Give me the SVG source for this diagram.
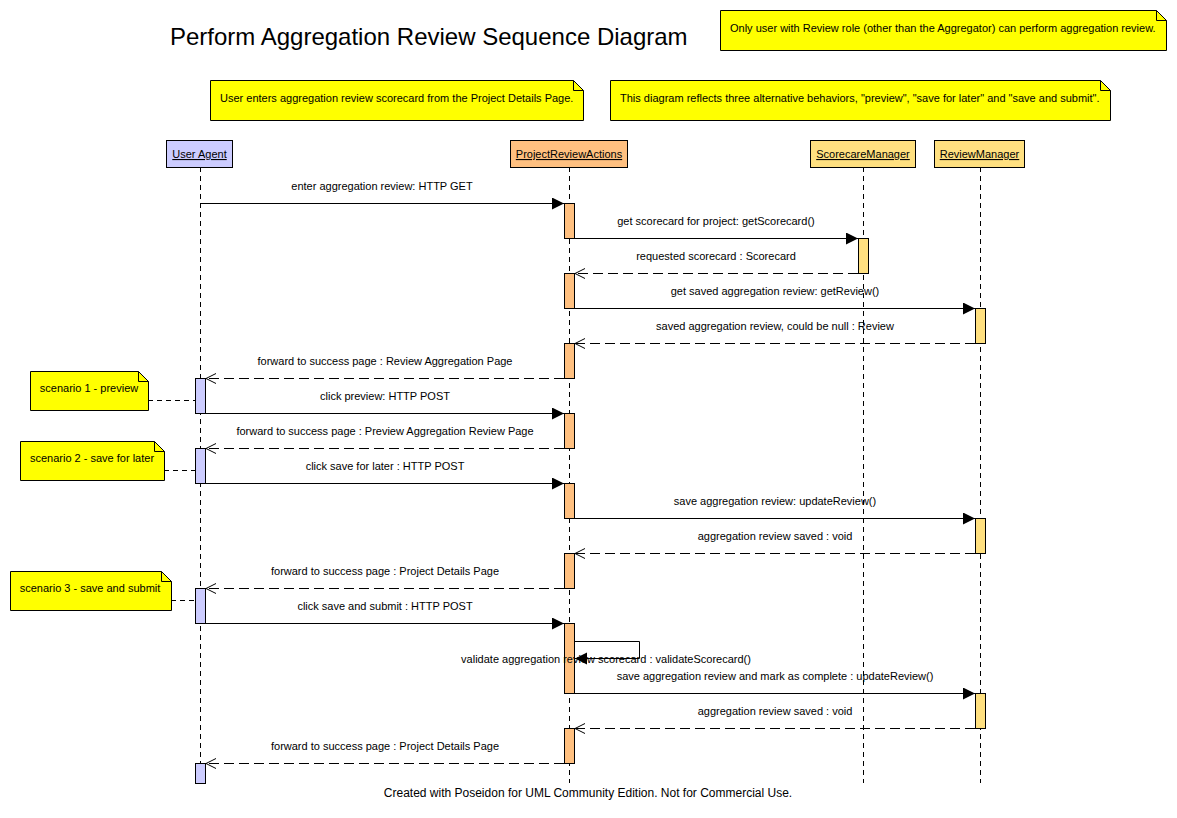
<svg xmlns="http://www.w3.org/2000/svg" width="1177" height="818" viewBox="0 0 1177 818">
<style>
text{font-family:"Liberation Sans",Arial,sans-serif;font-size:11px;fill:#000}
.title{font-size:24px}
.foot{font-size:12px}
.c{text-anchor:middle}
.u{text-decoration:underline}
.note{fill:#ffff00;stroke:#000;stroke-width:1}
.fold{fill:none;stroke:#000;stroke-width:1}
.life{stroke:#000;stroke-width:1;stroke-dasharray:5,4;fill:none}
.hdr{stroke:#000;stroke-width:1}
.ua{fill:#ccccff}
.pra{fill:#ffc080}
.mgr{fill:#ffe080}
.act{stroke:#000;stroke-width:1}
.sync{stroke:#000;stroke-width:1;fill:none;marker-end:url(#filled)}
.ret{stroke:#000;stroke-width:1;fill:none;stroke-dasharray:10,5;marker-end:url(#open)}
.anchor{stroke:#000;stroke-width:1;stroke-dasharray:5,4;fill:none}
</style>
<defs>
<marker id="filled" markerUnits="userSpaceOnUse" markerWidth="13" markerHeight="13" refX="12" refY="6" orient="auto">
<path d="M0,0 L12,6 L0,12 z" fill="#000"/>
</marker>
<marker id="open" markerUnits="userSpaceOnUse" markerWidth="12" markerHeight="12" refX="11" refY="6" orient="auto">
<path d="M1,1 L11,6 L1,11" fill="none" stroke="#000" stroke-width="1"/>
</marker>
</defs>
<rect width="1177" height="818" fill="#fff"/>
<text class="title" x="170" y="45">Perform Aggregation Review Sequence Diagram</text>

<g id="note-role">
<path class="note" d="M720.5,10.5 H1156.5 L1166.5,20.5 V50.5 H720.5 Z"/>
<path class="fold" d="M1156.5,10.5 V20.5 H1166.5"/>
<text x="730" y="32">Only user with Review role (other than the Aggregator) can perform aggregation review.</text>
</g>
<g id="note-enter">
<path class="note" d="M210.5,80.5 H573.5 L583.5,90.5 V120.5 H210.5 Z"/>
<path class="fold" d="M573.5,80.5 V90.5 H583.5"/>
<text x="220" y="102">User enters aggregation review scorecard from the Project Details Page.</text>
</g>
<g id="note-alt">
<path class="note" d="M610.5,80.5 H1100.5 L1110.5,90.5 V120.5 H610.5 Z"/>
<path class="fold" d="M1100.5,80.5 V90.5 H1110.5"/>
<text x="620" y="102">This diagram reflects three alternative behaviors, "preview", "save for later" and "save and submit".</text>
</g>

<g id="user-agent">
<line class="life" x1="200.5" y1="167" x2="200.5" y2="783"/>
<rect class="hdr ua" x="166.5" y="140.5" width="66" height="27"/>
<text class="c u" x="199.5" y="158">User Agent</text>
<rect class="act ua" x="195.5" y="378.5" width="10" height="35"/>
<rect class="act ua" x="195.5" y="448.5" width="10" height="35"/>
<rect class="act ua" x="195.5" y="588.5" width="10" height="35"/>
<rect class="act ua" x="195.5" y="763.5" width="10" height="20"/>
</g>
<g id="project-review-actions">
<line class="life" x1="569.5" y1="167" x2="569.5" y2="783"/>
<rect class="hdr pra" x="510.5" y="140.5" width="117" height="27"/>
<text class="c u" x="569" y="158">ProjectReviewActions</text>
<rect class="act pra" x="564.5" y="203.5" width="10" height="35"/>
<rect class="act pra" x="564.5" y="273.5" width="10" height="35"/>
<rect class="act pra" x="564.5" y="343.5" width="10" height="35"/>
<rect class="act pra" x="564.5" y="413.5" width="10" height="35"/>
<rect class="act pra" x="564.5" y="483.5" width="10" height="35"/>
<rect class="act pra" x="564.5" y="553.5" width="10" height="35"/>
<rect class="act pra" x="564.5" y="623.5" width="10" height="70"/>
<rect class="act pra" x="564.5" y="728.5" width="10" height="35"/>
</g>
<g id="scorecare-manager">
<line class="life" x1="863.5" y1="167" x2="863.5" y2="783"/>
<rect class="hdr mgr" x="810.5" y="140.5" width="105" height="27"/>
<text class="c u" x="863" y="158">ScorecareManager</text>
<rect class="act mgr" x="858.5" y="238.5" width="10" height="35"/>
</g>
<g id="review-manager">
<line class="life" x1="980.5" y1="167" x2="980.5" y2="783"/>
<rect class="hdr mgr" x="934.5" y="140.5" width="90" height="27"/>
<text class="c u" x="979.5" y="158">ReviewManager</text>
<rect class="act mgr" x="975.5" y="308.5" width="10" height="35"/>
<rect class="act mgr" x="975.5" y="518.5" width="10" height="35"/>
<rect class="act mgr" x="975.5" y="693.5" width="10" height="35"/>
</g>

<g id="note-s1">
<path class="note" d="M30.5,371.5 H138.5 L148.5,381.5 V410.5 H30.5 Z"/>
<path class="fold" d="M138.5,371.5 V381.5 H148.5"/>
<text class="c" x="89" y="392">scenario 1 - preview</text>
</g>
<g id="note-s2">
<path class="note" d="M20.5,441.5 H154.5 L164.5,451.5 V480.5 H20.5 Z"/>
<path class="fold" d="M154.5,441.5 V451.5 H164.5"/>
<text class="c" x="92" y="462">scenario 2 - save for later</text>
</g>
<g id="note-s3">
<path class="note" d="M10.5,571.5 H161.5 L171.5,581.5 V610.5 H10.5 Z"/>
<path class="fold" d="M161.5,571.5 V581.5 H171.5"/>
<text class="c" x="90" y="592">scenario 3 - save and submit</text>
</g>

<g id="connectors">
<line class="anchor" x1="148" y1="400.5" x2="195" y2="400.5"/>
<line class="anchor" x1="164" y1="470.5" x2="195" y2="470.5"/>
<line class="anchor" x1="171" y1="600.5" x2="195" y2="600.5"/>

<line class="sync" x1="200" y1="203.5" x2="564" y2="203.5"/>
<text class="c" x="382" y="190">enter aggregation review: HTTP GET</text>
<line class="sync" x1="575" y1="238.5" x2="858" y2="238.5"/>
<text class="c" x="716" y="225">get scorecard for project: getScorecard()</text>
<line class="ret" x1="858" y1="273.5" x2="575" y2="273.5"/>
<text class="c" x="716" y="260">requested scorecard : Scorecard</text>
<line class="sync" x1="575" y1="308.5" x2="975" y2="308.5"/>
<text class="c" x="775" y="295">get saved aggregation review: getReview()</text>
<line class="ret" x1="975" y1="343.5" x2="575" y2="343.5"/>
<text class="c" x="775" y="330">saved aggregation review, could be null : Review</text>
<line class="ret" x1="564" y1="378.5" x2="206" y2="378.5"/>
<text class="c" x="385" y="365">forward to success page : Review Aggregation Page</text>
<line class="sync" x1="206" y1="413.5" x2="564" y2="413.5"/>
<text class="c" x="385" y="400">click preview: HTTP POST</text>
<line class="ret" x1="564" y1="448.5" x2="206" y2="448.5"/>
<text class="c" x="385" y="435">forward to success page : Preview Aggregation Review Page</text>
<line class="sync" x1="206" y1="483.5" x2="564" y2="483.5"/>
<text class="c" x="385" y="470">click save for later : HTTP POST</text>
<line class="sync" x1="575" y1="518.5" x2="975" y2="518.5"/>
<text class="c" x="775" y="505">save aggregation review: updateReview()</text>
<line class="ret" x1="975" y1="553.5" x2="575" y2="553.5"/>
<text class="c" x="775" y="540">aggregation review saved : void</text>
<line class="ret" x1="564" y1="588.5" x2="206" y2="588.5"/>
<text class="c" x="385" y="575">forward to success page : Project Details Page</text>
<line class="sync" x1="206" y1="623.5" x2="564" y2="623.5"/>
<text class="c" x="385" y="610">click save and submit : HTTP POST</text>
<polyline class="sync" points="575,641.5 639.5,641.5 639.5,658.5 575,658.5"/>
<text class="c" x="606" y="663">validate aggregation review scorecard : validateScorecard()</text>
<line class="sync" x1="575" y1="693.5" x2="975" y2="693.5"/>
<text class="c" x="775" y="680">save aggregation review and mark as complete : updateReview()</text>
<line class="ret" x1="975" y1="728.5" x2="575" y2="728.5"/>
<text class="c" x="775" y="715">aggregation review saved : void</text>
<line class="ret" x1="564" y1="763.5" x2="206" y2="763.5"/>
<text class="c" x="385" y="750">forward to success page : Project Details Page</text>
</g>

<text class="c foot" x="588" y="797">Created with Poseidon for UML Community Edition. Not for Commercial Use.</text>
</svg>
